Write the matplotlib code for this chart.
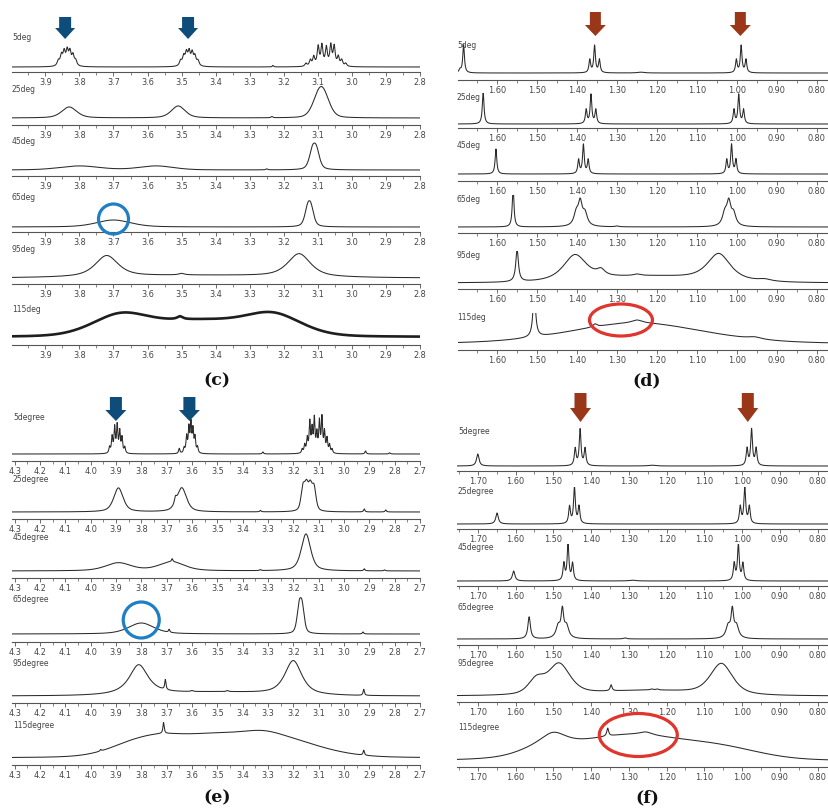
import numpy as np
import matplotlib
matplotlib.use("Agg")
import matplotlib.pyplot as plt
from matplotlib.ticker import MultipleLocator, FormatStrFormatter
from matplotlib.patches import Polygon, Ellipse

W, H = 829, 808

# ---------------- data: peaks as (ppm, height, half-width, lorentz fraction) --------------
row_labels_cd = ["5deg", "25deg", "45deg", "65deg", "95deg", "115deg"]
row_labels_ef = ["5degree", "25degree", "45degree", "65degree", "95degree", "115degree"]

c_5 = [(3.862, 5, .004, 1), (3.853, 10, .004, 1), (3.845, 13, .004, 1), (3.836, 14, .004, 1),
       (3.828, 13, .004, 1), (3.819, 10, .004, 1), (3.811, 5, .004, 1),
       (3.503, 5, .004, 1), (3.494, 9, .004, 1), (3.486, 12, .004, 1), (3.478, 13, .004, 1),
       (3.469, 12, .004, 1), (3.461, 9, .004, 1), (3.452, 5, .004, 1),
       (3.135, 3, .0035, 1), (3.122, 6, .0035, 1), (3.112, 9, .0035, 1), (3.099, 19, .0035, 1),
       (3.088, 20, .0035, 1), (3.075, 18, .0035, 1), (3.062, 20, .0035, 1), (3.052, 19, .0035, 1),
       (3.040, 9, .0035, 1), (3.030, 6, .0035, 1), (3.018, 3, .0035, 1), (3.232, 1.5, .002, 1)]
c_25 = [(3.830, 11, .026, .5), (3.510, 12, .024, .5), (3.097, 17, .022, .3), (3.083, 17, .022, .3),
        (3.235, 1.2, .003, 1)]
c_45 = [(3.80, 4, .07, .3), (3.575, 4, .06, .3), (3.116, 17, .011, .5), (3.104, 17, .011, .5),
        (3.25, 1, .003, 1)]
c_65 = [(3.70, 7, .06, .4), (3.130, 16, .010, .5), (3.120, 16, .010, .5)]
c_95 = [(3.72, 21, .04, .7), (3.155, 23, .04, .7), (3.50, 1.5, .01, 1), (3.45, 2.5, .3, 0)]
c_115 = [(3.68, 21, .10, .3), (3.23, 21, .10, .3), (3.45, 15, .15, 0), (3.505, 3, .01, 1)]

d_5 = [(1.693, 3, .003, 1), (1.684, 28, .0025, 1), (1.368, 13, .0025, 1), (1.356, 27, .0025, 1),
       (1.344, 13, .0025, 1), (1.001, 13, .0025, 1), (0.989, 27, .0025, 1), (0.977, 13, .0025, 1),
       (1.24, 0.8, .01, 1)]
d_25 = [(1.635, 32, .0025, 1), (1.377, 14, .0025, 1), (1.365, 29, .0025, 1), (1.353, 14, .0025, 1),
        (1.007, 14, .0025, 1), (0.995, 29, .0025, 1), (0.983, 14, .0025, 1)]
d_45 = [(1.603, 25, .0025, 1), (1.396, 14, .0025, 1), (1.384, 29, .0025, 1), (1.372, 14, .0025, 1),
        (1.025, 14, .0025, 1), (1.013, 29, .0025, 1), (1.002, 14, .0025, 1)]
d_65 = [(1.560, 40, .0025, 1), (1.402, 12, .007, 1), (1.392, 22, .006, 1), (1.380, 12, .007, 1),
        (1.030, 12, .007, 1), (1.020, 22, .006, 1), (1.008, 12, .007, 1), (1.30, 0.8, .005, 1)]
d_95 = [(1.550, 32, .004, 1), (1.405, 26, .035, .8), (1.34, 6, .012, 1), (1.25, 1.5, .01, 1),
        (1.045, 27, .035, .8), (0.93, 2, .02, 1), (1.22, 6, .15, 0)]
d_115 = [(1.507, 45, .004, 1), (1.25, 21, .2, .3), (1.355, 3, .006, 1), (1.25, 3, .015, 1),
         (0.955, 2, .02, 1)]

e_5 = [(3.925, 6, .003, 1), (3.915, 16, .003, 1), (3.905, 25, .003, 1), (3.895, 27, .003, 1),
       (3.885, 21, .003, 1), (3.876, 15, .003, 1), (3.865, 6, .003, 1),
       (3.650, 5, .003, 1), (3.631, 5, .003, 1), (3.621, 16, .003, 1), (3.612, 24, .003, 1),
       (3.604, 28, .003, 1), (3.596, 22, .003, 1), (3.588, 15, .003, 1), (3.578, 6, .003, 1),
       (3.165, 4, .003, 1), (3.155, 8, .003, 1), (3.145, 14, .003, 1), (3.135, 30, .003, 1),
       (3.126, 22, .003, 1), (3.117, 33, .003, 1), (3.107, 18, .003, 1), (3.097, 30, .003, 1),
       (3.087, 34, .003, 1), (3.077, 20, .003, 1), (3.067, 14, .003, 1), (3.057, 8, .003, 1),
       (3.047, 4, .003, 1), (3.32, 2, .003, 1), (2.915, 3, .003, 1), (2.82, 1.2, .003, 1)]
e_25 = [(3.89, 24, .022, .6), (3.64, 24, .022, .6), (3.665, 6, .005, 1),
        (3.162, 22, .009, .5), (3.148, 22, .009, .5), (3.133, 22, .009, .5), (3.118, 22, .009, .5),
        (3.33, 1.5, .003, 1), (2.92, 3, .003, 1), (2.835, 2, .003, 1)]
e_45 = [(3.89, 8, .06, .5), (3.68, 9, .06, .5), (3.678, 3, .003, 1), (3.15, 37, .022, .6),
        (3.33, 1, .003, 1), (2.92, 2, .003, 1), (2.84, 1, .003, 1)]
e_65 = [(3.80, 11, .06, .5), (3.69, 3, .003, 1), (3.177, 24, .01, .5), (3.165, 24, .01, .5),
        (2.925, 2, .003, 1)]
e_95 = [(3.81, 30, .045, .9), (3.705, 10, .003, 1), (3.20, 34, .04, .75), (3.5, 3.5, .25, 0),
        (2.922, 6, .003, 1), (3.60, 1, .005, 1), (3.46, 1, .005, 1)]
e_115 = [(3.72, 17, .13, .3), (3.85, 8, .12, .3), (3.32, 20, .13, .3), (3.52, 16, .13, 0),
         (3.15, 9, .15, .3), (3.712, 11, .003, 1), (2.922, 5, .003, 1), (3.96, 1.5, .003, 1)]

f_5 = [(1.700, 12, .004, 1), (1.442, 17, .0028, 1), (1.429, 36, .0028, 1), (1.416, 17, .0028, 1),
       (0.987, 17, .0028, 1), (0.975, 36, .0028, 1), (0.963, 17, .0028, 1), (1.24, 0.8, .01, 1)]
f_25 = [(1.649, 11, .004, 1), (1.457, 17, .0028, 1), (1.444, 36, .0028, 1), (1.432, 17, .0028, 1),
        (1.005, 17, .0028, 1), (0.993, 36, .0028, 1), (0.981, 17, .0028, 1)]
f_45 = [(1.605, 10, .004, 1), (1.472, 17, .0028, 1), (1.461, 36, .0028, 1), (1.449, 17, .0028, 1),
        (1.021, 17, .0028, 1), (1.010, 36, .0028, 1), (0.998, 17, .0028, 1), (1.29, 0.8, .01, 1)]
f_65 = [(1.564, 22, .004, 1), (1.476, 26, .004, 1), (1.487, 12, .007, 1), (1.465, 12, .007, 1),
        (1.026, 26, .004, 1), (1.037, 12, .007, 1), (1.015, 12, .007, 1), (1.31, 1, .005, 1)]
f_95 = [(1.485, 31, .035, .6), (1.545, 14, .025, .5), (1.347, 6, .003, 1), (1.055, 31, .035, .6),
        (1.25, 5, .15, 0), (1.24, 1, .004, 1), (1.225, 1, .004, 1)]
f_115 = [(1.50, 9, .035, .5), (1.52, 8, .07, 0), (1.30, 26, .19, .3), (1.05, 8, .12, 0),
         (1.356, 8, .003, 1), (1.255, 3, .02, 1)]

c_rows = [c_5, c_25, c_45, c_65, c_95, c_115]
d_rows = [d_5, d_25, d_45, d_65, d_95, d_115]
e_rows = [e_5, e_25, e_45, e_65, e_95, e_115]
f_rows = [f_5, f_25, f_45, f_65, f_95, f_115]

c_arrows = [3.842, 3.481]
d_arrows = [1.354, 0.991]
e_arrows = [3.90, 3.61]
f_arrows = [1.428, 0.985]

# ---------------- layout (pixels) -----------------
# (label_y, baseline_y, axis_y)
c_pos = [(38, 67, 72), (90, 118, 125), (142, 170, 176), (198, 227, 232), (250, 278, 284), (310, 337, 345)]
d_pos = [(45, 73, 80), (97, 124, 128), (146, 174, 181), (199, 227, 233), (255, 283, 289), (317, 344, 350)]
e_pos = [(417, 454, 461), (479, 512, 519), (537, 571, 578), (600, 634, 642), (663, 696, 703), (725, 758, 765)]
f_pos = [(431, 466, 471), (491, 524, 529), (548, 581, 586), (607, 639, 645), (664, 696, 702), (728, 761, 767)]

fig = plt.figure(figsize=(W / 100, H / 100), dpi=100)
fig.patch.set_facecolor("white")


def fx(x):
    return x / W


def fy(y):
    return 1 - y / H


def spectrum(x, peaks):
    y = np.zeros_like(x)
    for c, h, w, eta in peaks:
        u = (x - c) / w
        y += h * (eta / (1 + u * u) + (1 - eta) * np.exp(-np.log(2) * u * u))
    return y


def panel(rows, pos, labels, xl, xr, xlim, fmt, label_x, thick_last=False):
    axes = []
    for i, (peaks, (ly, by, ay)) in enumerate(zip(rows, pos)):
        top = ly - 4
        ax = fig.add_axes([fx(xl), fy(ay), fx(xr - xl), (ay - top) / H])
        ax.set_xlim(*xlim)
        ax.set_ylim(-(ay - by), by - top)
        x = np.linspace(xlim[0], xlim[1], 5000)
        y = spectrum(x, peaks)
        lw, col = (1.9, "#1e1e1e") if (thick_last and i == len(rows) - 1) else (0.75, "#2a2a2a")
        ax.plot(x, y, color=col, lw=lw, solid_joinstyle="round")
        for s in ["top", "left", "right"]:
            ax.spines[s].set_visible(False)
        ax.spines["bottom"].set_color("#555555")
        ax.spines["bottom"].set_linewidth(0.8)
        ax.set_yticks([])
        ax.xaxis.set_major_locator(MultipleLocator(0.1))
        ax.xaxis.set_minor_locator(MultipleLocator(0.05))
        ax.xaxis.set_major_formatter(FormatStrFormatter(fmt))
        ax.tick_params(axis="x", which="major", length=3.2, width=0.6, color="#555555",
                       labelsize=5.9, labelcolor="#444444", pad=0.8)
        ax.tick_params(axis="x", which="minor", length=2, width=0.5, color="#555555")
        ax.patch.set_alpha(0)
        fig.text(fx(label_x), fy(ly), labels[i], fontsize=5.5, color="#444444",
                 ha="left", va="center")
        axes.append(ax)
    return axes


ax_c = panel(c_rows, c_pos, row_labels_cd, 12, 420, (3.998, 2.8), "%.1f", 12, thick_last=True)
ax_d = panel(d_rows, d_pos, row_labels_cd, 458, 829, (1.698, 0.769), "%.2f", 457)
ax_e = panel(e_rows, e_pos, row_labels_ef, 12, 420, (4.31, 2.70), "%.1f", 13)
ax_f = panel(f_rows, f_pos, row_labels_ef, 457, 829, (1.755, 0.77), "%.2f", 458)


def ppm_to_px(ax, ppm):
    x0, x1 = ax.get_xlim()
    pos = ax.get_position()
    frac = (ppm - x0) / (x1 - x0)
    return (pos.x0 + frac * pos.width) * W


def arrow(ax, ppm, y_top, y_shaft, y_tip, head_w, shaft_w, color):
    xc = ppm_to_px(ax, ppm)
    pts = [(xc - shaft_w / 2, y_top), (xc + shaft_w / 2, y_top), (xc + shaft_w / 2, y_shaft),
           (xc + head_w / 2, y_shaft), (xc, y_tip), (xc - head_w / 2, y_shaft),
           (xc - shaft_w / 2, y_shaft)]
    poly = Polygon([(fx(a), fy(b)) for a, b in pts], closed=True, transform=fig.transFigure,
                   facecolor=color, edgecolor="none", zorder=10)
    fig.patches.append(poly)


blue_arrow = "#0e4c7a"
red_arrow = "#9b3719"
for p in c_arrows:
    arrow(ax_c[0], p, 17, 28, 39, 20, 12, blue_arrow)
for p in d_arrows:
    arrow(ax_d[0], p, 12, 25, 36, 21, 11, red_arrow)
for p in e_arrows:
    arrow(ax_e[0], p, 397, 410, 421, 21, 12, blue_arrow)
for p in f_arrows:
    arrow(ax_f[0], p, 393, 408, 422, 21, 12, red_arrow)


def ellipse(ax, ppm, yc, w, h, color):
    xc = ppm_to_px(ax, ppm)
    e = Ellipse((fx(xc), fy(yc)), w / W, h / H, transform=fig.transFigure, fill=False,
                edgecolor=color, lw=2.3, zorder=10)
    fig.patches.append(e)


ellipse(ax_c[3], 3.70, 219, 30, 30, "#1f7fc4")
ellipse(ax_e[3], 3.80, 620, 36, 36, "#1f7fc4")
ellipse(ax_d[5], 1.29, 320, 63, 32, "#e0352c")
ellipse(ax_f[5], 1.275, 735, 78, 43, "#e0352c")

for txt, x, y in [("(c)", 217, 381), ("(d)", 647, 381), ("(e)", 217, 798), ("(f)", 647, 798)]:
    fig.text(fx(x), fy(y), txt, fontsize=12.5, family="DejaVu Serif", fontweight="bold",
             ha="center", va="center", color="#111111")

fig.savefig("out.png", dpi=100, facecolor="white")
